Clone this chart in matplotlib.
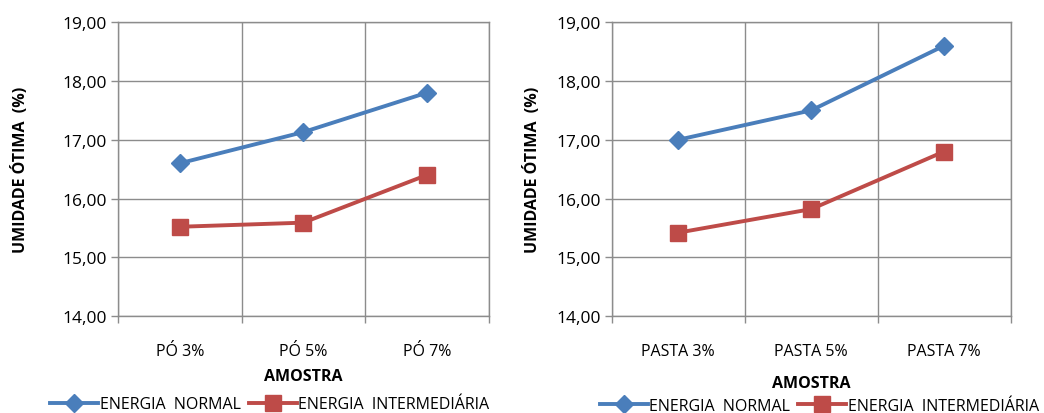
import numpy as np
import matplotlib
matplotlib.use("Agg")
import matplotlib.pyplot as plt
import matplotlib.ticker as ticker

# data
cats_po = ["PÓ 3%", "PÓ 5%", "PÓ 7%"]
cats_pasta = ["PASTA 3%", "PASTA 5%", "PASTA 7%"]
po_normal = [16.60, 17.13, 17.80]
po_interm = [15.52, 15.59, 16.40]
pasta_normal = [17.00, 17.50, 18.60]
pasta_interm = [15.42, 15.82, 16.80]
series_names = ["ENERGIA  NORMAL", "ENERGIA  INTERMEDIÁRIA"]

BLUE = "#4A7EBB"
RED = "#BE4B48"
GRID = "#8C8C8C"

plt.rcParams.update({
    "font.family": ["Open Sans", "DejaVu Sans"],
    "font.size": 11.5,
})

fig = plt.figure(figsize=(10.44, 4.14), dpi=100)
ax1 = fig.add_axes([0.113, 0.234, 0.355, 0.710])
ax2 = fig.add_axes([0.586, 0.234, 0.382, 0.710])


def draw(ax, cats, normal, interm, xlab_pad, ylab_pad, leg_y, leg_x):
    x = np.arange(len(cats))
    ax.plot(x, normal, color=BLUE, lw=2.8, marker="D", ms=9, label=series_names[0], zorder=3)
    ax.plot(x, interm, color=RED, lw=2.8, marker="s", ms=11, label=series_names[1], zorder=3)
    ax.set_xlim(-0.5, len(cats) - 0.5)
    ax.set_ylim(14, 19)
    ax.set_yticks(np.arange(14, 20, 1))
    ax.yaxis.set_major_formatter(ticker.FuncFormatter(lambda v, p: f"{v:.2f}".replace(".", ",")))
    ax.set_xticks(x)
    ax.set_xticklabels(cats)
    ax.set_xticks(np.arange(-0.5, len(cats), 1), minor=True)
    ax.tick_params(axis="x", which="major", length=0, pad=19, labelsize=11.5)
    ax.tick_params(axis="x", which="minor", length=5, color=GRID, width=1)
    ax.tick_params(axis="y", length=5, color=GRID, width=1, labelsize=12.5, pad=3)
    ax.grid(True, axis="y", which="major", color=GRID, lw=1)
    ax.grid(True, axis="x", which="minor", color=GRID, lw=1)
    for s in ax.spines.values():
        s.set_color(GRID)
        s.set_linewidth(1)
    ax.set_axisbelow(True)
    ax.set_xlabel("AMOSTRA", fontweight="bold", fontsize=11.5, labelpad=xlab_pad)
    ax.set_ylabel("UMIDADE ÓTIMA  (%)", fontweight="bold", fontsize=11.5, labelpad=ylab_pad)
    ax.legend(loc="center", bbox_to_anchor=(leg_x, leg_y), ncol=2, frameon=False,
              fontsize=11.5, handlelength=3.0, handletextpad=0.1, columnspacing=0.5,
              borderaxespad=0)


draw(ax1, cats_po, po_normal, po_interm, 7, 24, -0.30, 0.41)
draw(ax2, cats_pasta, pasta_normal, pasta_interm, 12, 11, -0.305, 0.52)

fig.savefig("out.png", dpi=100)
